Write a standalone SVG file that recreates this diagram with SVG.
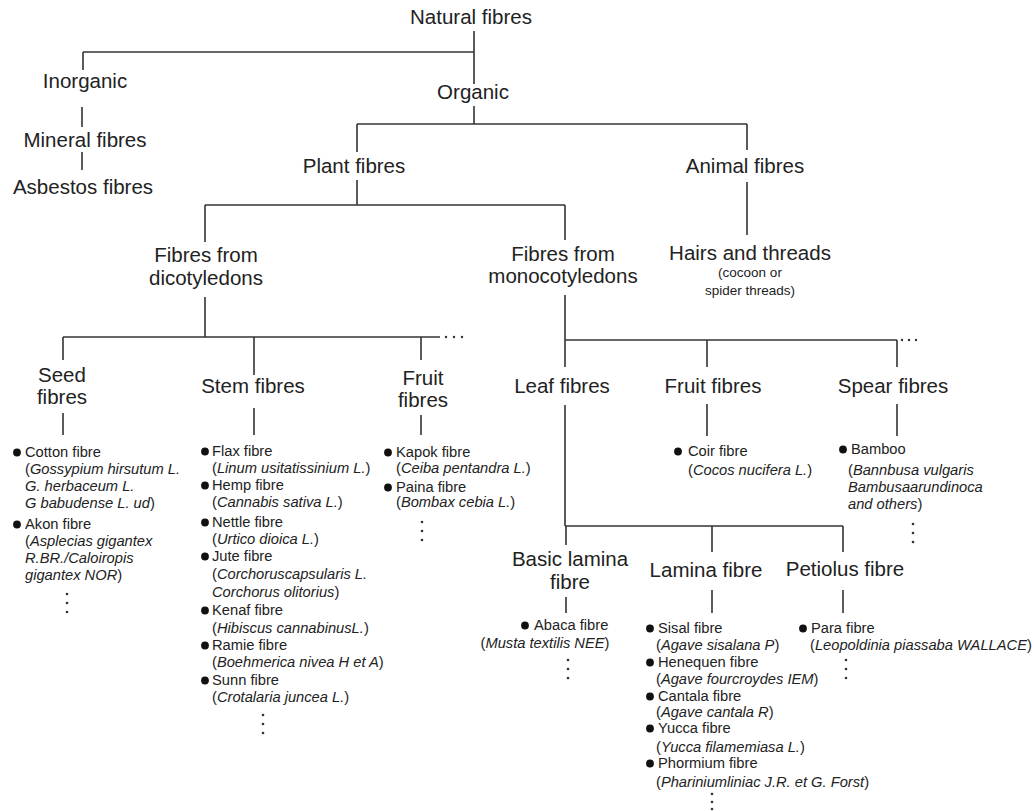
<svg xmlns="http://www.w3.org/2000/svg" width="1034" height="811" viewBox="0 0 1034 811">
<style>
.lb{font-family:"Liberation Sans",Arial,sans-serif;font-size:20.5px;fill:#222;text-anchor:middle}
.sm{font-family:"Liberation Sans",Arial,sans-serif;font-size:13.5px;fill:#222;text-anchor:middle}
.it{font-family:"Liberation Sans",Arial,sans-serif;font-size:14.7px;fill:#222}
.i{font-style:italic}
.c line{stroke:#333;stroke-width:1.6}
.d{fill:#333}
.b{fill:#111}
</style>
<rect width="1034" height="811" fill="#fff"/>
<g id="connectors" class="c">
<line x1="474" y1="31" x2="474" y2="84"/>
<line x1="83" y1="52" x2="474" y2="52"/>
<line x1="83" y1="52" x2="83" y2="70"/>
<line x1="82" y1="107" x2="82" y2="127"/>
<line x1="82" y1="152" x2="82" y2="170"/>
<line x1="474" y1="106" x2="474" y2="124"/>
<line x1="357" y1="124" x2="747" y2="124"/>
<line x1="357" y1="124" x2="357" y2="152"/>
<line x1="747" y1="124" x2="747" y2="150"/>
<line x1="357" y1="180" x2="357" y2="205"/>
<line x1="205" y1="205" x2="565" y2="205"/>
<line x1="205" y1="205" x2="205" y2="242"/>
<line x1="565" y1="205" x2="565" y2="240"/>
<line x1="747" y1="182" x2="747" y2="235"/>
<line x1="205" y1="297" x2="205" y2="337"/>
<line x1="63" y1="337" x2="440" y2="337"/>
<line x1="63" y1="337" x2="63" y2="360"/>
<line x1="254" y1="337" x2="254" y2="375"/>
<line x1="421" y1="337" x2="421" y2="360"/>
<line x1="63" y1="413" x2="63" y2="435"/>
<line x1="254" y1="408" x2="254" y2="435"/>
<line x1="421" y1="415" x2="421" y2="435"/>
<line x1="565" y1="295" x2="565" y2="367"/>
<line x1="565" y1="340" x2="897" y2="340"/>
<line x1="707" y1="340" x2="707" y2="367"/>
<line x1="897" y1="340" x2="897" y2="367"/>
<line x1="565" y1="405" x2="565" y2="526"/>
<line x1="707" y1="404" x2="707" y2="436"/>
<line x1="897" y1="404" x2="897" y2="436"/>
<line x1="565" y1="526" x2="843" y2="526"/>
<line x1="566" y1="526" x2="566" y2="545"/>
<line x1="712" y1="526" x2="712" y2="552"/>
<line x1="843" y1="526" x2="843" y2="552"/>
<line x1="566" y1="597" x2="566" y2="613"/>
<line x1="712" y1="590" x2="712" y2="613"/>
<line x1="843" y1="590" x2="843" y2="613"/>
<circle class="d" cx="446" cy="337" r="1.2"/><circle class="d" cx="454" cy="337" r="1.2"/><circle class="d" cx="462" cy="337" r="1.2"/>
<circle class="d" cx="902" cy="340" r="1.2"/><circle class="d" cx="909" cy="340" r="1.2"/><circle class="d" cx="916" cy="340" r="1.2"/>
</g>
<g id="natural"><text class="lb" x="471" y="24">Natural fibres</text></g>
<g id="inorganic"><text class="lb" x="85" y="88">Inorganic</text></g>
<g id="mineral"><text class="lb" x="85" y="147">Mineral fibres</text></g>
<g id="asbestos"><text class="lb" x="83" y="194">Asbestos fibres</text></g>
<g id="organic"><text class="lb" x="473" y="99">Organic</text></g>
<g id="plant"><text class="lb" x="354" y="173">Plant fibres</text></g>
<g id="animal"><text class="lb" x="745" y="173">Animal fibres</text></g>
<g id="dicot"><text class="lb" x="206" y="262">Fibres from</text><text class="lb" x="206" y="285">dicotyledons</text></g>
<g id="monocot"><text class="lb" x="563" y="261">Fibres from</text><text class="lb" x="563" y="283">monocotyledons</text></g>
<g id="hairs"><text class="lb" x="750" y="260">Hairs and threads</text><text class="sm" x="750" y="277">(cocoon or</text><text class="sm" x="750" y="295">spider threads)</text></g>
<g id="seed"><text class="lb" x="62" y="382">Seed</text><text class="lb" x="62" y="404">fibres</text></g>
<g id="stem"><text class="lb" x="253" y="393">Stem fibres</text></g>
<g id="fruit-d"><text class="lb" x="423" y="385">Fruit</text><text class="lb" x="423" y="407">fibres</text></g>
<g id="leaf"><text class="lb" x="562" y="393">Leaf fibres</text></g>
<g id="fruit-m"><text class="lb" x="713" y="393">Fruit fibres</text></g>
<g id="spear"><text class="lb" x="893" y="393">Spear fibres</text></g>
<g id="basic"><text class="lb" x="570" y="566">Basic lamina</text><text class="lb" x="570" y="589">fibre</text></g>
<g id="lamina"><text class="lb" x="706" y="577">Lamina fibre</text></g>
<g id="petiolus"><text class="lb" x="845" y="576">Petiolus fibre</text></g>
<g id="seed-list">
<circle class="b" cx="17" cy="452.5" r="3.9"/>
<text class="it" x="25" y="457">Cotton fibre</text>
<text class="it" x="25" y="474">(<tspan class="i">Gossypium hirsutum L.</tspan></text>
<text class="it i" x="25" y="491">G. herbaceum L.</text>
<text class="it" x="25" y="508"><tspan class="i">G babudense L. ud</tspan>)</text>
<circle class="b" cx="17" cy="524.5" r="3.9"/>
<text class="it" x="25" y="529">Akon fibre</text>
<text class="it" x="25" y="546">(<tspan class="i">Asplecias gigantex</tspan></text>
<text class="it i" x="25" y="563">R.BR./Caloiropis</text>
<text class="it" x="25" y="580"><tspan class="i">gigantex NOR</tspan>)</text>
<circle class="d" cx="67" cy="594" r="1.3"/><circle class="d" cx="67" cy="603" r="1.3"/><circle class="d" cx="67" cy="612" r="1.3"/>
</g>
<g id="stem-list">
<circle class="b" cx="205" cy="451.5" r="3.9"/>
<text class="it" x="212" y="456">Flax fibre</text>
<text class="it" x="212" y="473">(<tspan class="i">Linum usitatissinium L.</tspan>)</text>
<circle class="b" cx="205" cy="485.5" r="3.9"/>
<text class="it" x="212" y="490">Hemp fibre</text>
<text class="it" x="212" y="507">(<tspan class="i">Cannabis sativa L.</tspan>)</text>
<circle class="b" cx="205" cy="522.5" r="3.9"/>
<text class="it" x="212" y="527">Nettle fibre</text>
<text class="it" x="212" y="544">(<tspan class="i">Urtico dioica L.</tspan>)</text>
<circle class="b" cx="205" cy="556.5" r="3.9"/>
<text class="it" x="212" y="561">Jute fibre</text>
<text class="it" x="212" y="579">(<tspan class="i">Corchoruscapsularis L.</tspan></text>
<text class="it" x="212" y="597"><tspan class="i">Corchorus olitorius</tspan>)</text>
<circle class="b" cx="205" cy="610.5" r="3.9"/>
<text class="it" x="212" y="615">Kenaf fibre</text>
<text class="it" x="212" y="633">(<tspan class="i">Hibiscus cannabinusL.</tspan>)</text>
<circle class="b" cx="205" cy="645.5" r="3.9"/>
<text class="it" x="212" y="650">Ramie fibre</text>
<text class="it" x="212" y="667">(<tspan class="i">Boehmerica nivea H et A</tspan>)</text>
<circle class="b" cx="205" cy="680.5" r="3.9"/>
<text class="it" x="212" y="685">Sunn fibre</text>
<text class="it" x="212" y="702">(<tspan class="i">Crotalaria juncea L.</tspan>)</text>
<circle class="d" cx="263" cy="715" r="1.3"/><circle class="d" cx="263" cy="724" r="1.3"/><circle class="d" cx="263" cy="733" r="1.3"/>
</g>
<g id="fruit-d-list">
<circle class="b" cx="388" cy="452.5" r="3.9"/>
<text class="it" x="396" y="457">Kapok fibre</text>
<text class="it" x="396" y="473">(<tspan class="i">Ceiba pentandra L.</tspan>)</text>
<circle class="b" cx="388" cy="487.5" r="3.9"/>
<text class="it" x="396" y="492">Paina fibre</text>
<text class="it" x="396" y="507">(<tspan class="i">Bombax cebia L.</tspan>)</text>
<circle class="d" cx="422" cy="522" r="1.3"/><circle class="d" cx="422" cy="531" r="1.3"/><circle class="d" cx="422" cy="540" r="1.3"/>
</g>
<g id="coir-list">
<circle class="b" cx="678" cy="451.5" r="3.9"/>
<text class="it" x="688" y="456">Coir fibre</text>
<text class="it" x="688" y="475">(<tspan class="i">Cocos nucifera L.</tspan>)</text>
</g>
<g id="spear-list">
<circle class="b" cx="843" cy="449.5" r="3.9"/>
<text class="it" x="851" y="454">Bamboo</text>
<text class="it" x="848" y="475">(<tspan class="i">Bannbusa vulgaris</tspan></text>
<text class="it i" x="848" y="492">Bambusaarundinoca</text>
<text class="it" x="848" y="509"><tspan class="i">and others</tspan>)</text>
<circle class="d" cx="913" cy="524" r="1.3"/><circle class="d" cx="913" cy="533" r="1.3"/><circle class="d" cx="913" cy="542" r="1.3"/>
</g>
<g id="basic-list">
<circle class="b" cx="525" cy="625.5" r="3.9"/>
<text class="it" x="534" y="630">Abaca fibre</text>
<text class="it" x="545" y="648" text-anchor="middle">(<tspan class="i">Musta textilis NEE</tspan>)</text>
<circle class="d" cx="568" cy="660" r="1.3"/><circle class="d" cx="568" cy="669" r="1.3"/><circle class="d" cx="568" cy="678" r="1.3"/>
</g>
<g id="lamina-list">
<circle class="b" cx="650" cy="628.5" r="3.9"/>
<text class="it" x="658" y="633">Sisal fibre</text>
<text class="it" x="656" y="650">(<tspan class="i">Agave sisalana P</tspan>)</text>
<circle class="b" cx="650" cy="662.5" r="3.9"/>
<text class="it" x="658" y="667">Henequen fibre</text>
<text class="it" x="656" y="684">(<tspan class="i">Agave fourcroydes IEM</tspan>)</text>
<circle class="b" cx="650" cy="696.5" r="3.9"/>
<text class="it" x="658" y="701">Cantala fibre</text>
<text class="it" x="656" y="717">(<tspan class="i">Agave cantala R</tspan>)</text>
<circle class="b" cx="650" cy="728.5" r="3.9"/>
<text class="it" x="658" y="733">Yucca fibre</text>
<text class="it" x="656" y="752">(<tspan class="i">Yucca filamemiasa L.</tspan>)</text>
<circle class="b" cx="650" cy="763.5" r="3.9"/>
<text class="it" x="658" y="768">Phormium fibre</text>
<text class="it" x="656" y="787">(<tspan class="i">Phariniumliniac J.R. et G. Forst</tspan>)</text>
<circle class="d" cx="712" cy="794" r="1.3"/><circle class="d" cx="712" cy="802" r="1.3"/><circle class="d" cx="712" cy="809" r="1.3"/>
</g>
<g id="petiolus-list">
<circle class="b" cx="803" cy="628.5" r="3.9"/>
<text class="it" x="811" y="633">Para fibre</text>
<text class="it" x="810" y="650">(<tspan class="i">Leopoldinia piassaba WALLACE</tspan>)</text>
<circle class="d" cx="846" cy="660" r="1.3"/><circle class="d" cx="846" cy="669" r="1.3"/><circle class="d" cx="846" cy="678" r="1.3"/>
</g>
</svg>
